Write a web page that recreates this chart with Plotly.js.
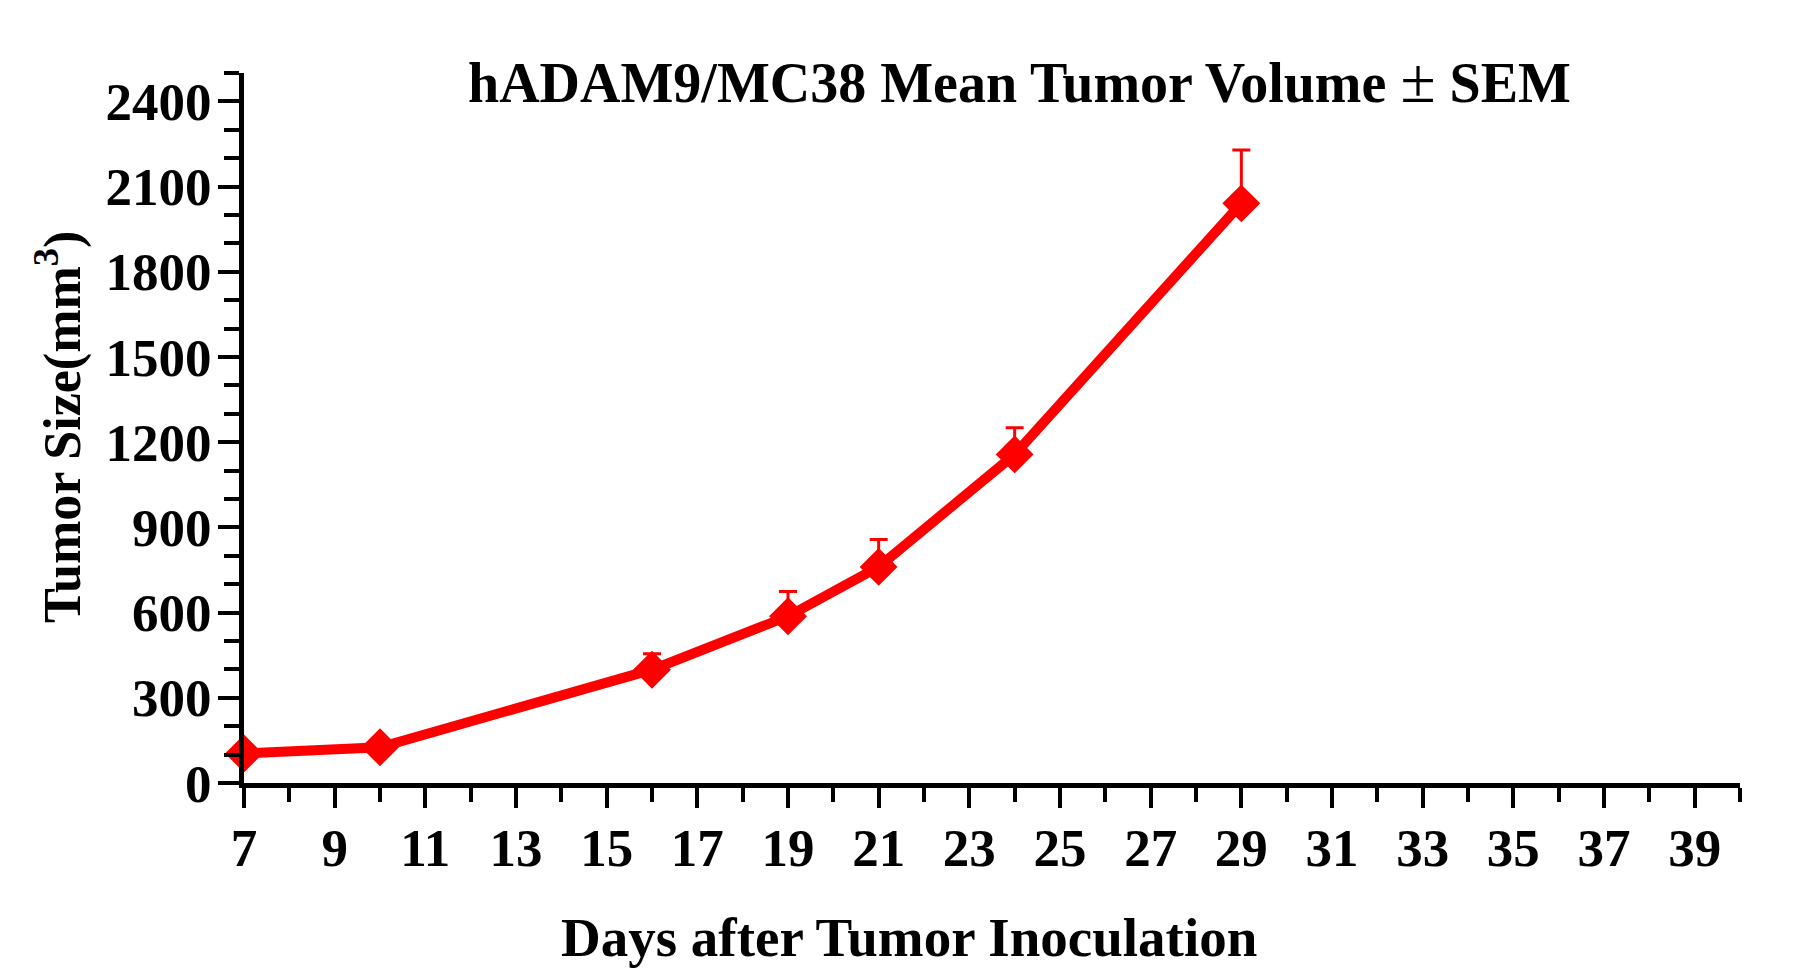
<!DOCTYPE html>
<html>
<head>
<meta charset="utf-8">
<script src="https://cdn.plot.ly/plotly-3.0.1.min.js"></script>
<style>html,body{margin:0;padding:0;background:#fff;}#chart{width:1802px;height:978px;}</style>
</head>
<body>
<div id="chart"></div>
<script>
const days = [7, 10, 16, 19, 21, 24, 29];
const meanVolume = [104, 126, 399, 587, 761, 1157, 2041];
const semVolume = [8, 10, 56, 87, 96, 94, 188];
const titleText = "hADAM9/MC38 Mean Tumor Volume <span style='font-weight:normal;font-size:64px'>±</span> SEM";
const xTitleText = "Days after Tumor Inoculation";
const yTitleText = "Tumor Size(mm<sup>3</sup>)";

const FONT = "Liberation Serif, Times New Roman, serif";

const trace = {
  x: days,
  y: meanVolume,
  type: 'scatter',
  mode: 'lines+markers',
  cliponaxis: false,
  line: {color: '#ff0000', width: 10},
  marker: {symbol: 'diamond', size: 27, color: '#ff0000', line: {color: '#ff0000', width: 2}},
  error_y: {
    type: 'data',
    symmetric: false,
    array: semVolume,
    arrayminus: days.map(() => 0),
    color: '#ff0000',
    thickness: 3,
    width: 9,
    visible: true
  },
  showlegend: false
};

const layout = {
  width: 1802,
  height: 978,
  paper_bgcolor: '#ffffff',
  plot_bgcolor: '#ffffff',
  margin: {l: 244, r: 62, t: 73, b: 195},
  font: {family: FONT, color: '#000000', size: 48, weight: 'bold'},
  xaxis: {
    range: [7, 40],
    tick0: 7,
    dtick: 2,
    tickmode: 'linear',
    ticks: 'outside',
    ticklen: 20,
    tickwidth: 4,
    tickcolor: '#000',
    showline: true,
    linewidth: 5,
    linecolor: '#000',
    showgrid: false,
    zeroline: false,
    ticklabelstandoff: -6,
    tickfont: {family: FONT, size: 53, color: '#000', weight: 'bold'},
    minor: {dtick: 1, tick0: 7, ticks: 'outside', ticklen: 14, tickwidth: 4, tickcolor: '#000', showgrid: false}
  },
  yaxis: {
    range: [0, 2500],
    tick0: 0,
    dtick: 300,
    tickmode: 'linear',
    ticks: 'outside',
    ticklen: 21,
    tickwidth: 4,
    tickcolor: '#000',
    showline: true,
    linewidth: 5,
    linecolor: '#000',
    showgrid: false,
    zeroline: false,
    ticklabelstandoff: -4,
    tickfont: {family: FONT, size: 53, color: '#000', weight: 'bold'},
    minor: {dtick: 100, tick0: 0, ticks: 'outside', ticklen: 15, tickwidth: 4, tickcolor: '#000', showgrid: false}
  },
  annotations: [
    {text: titleText, xref: 'paper', yref: 'paper', x: 0.5187, y: 0.990, xanchor: 'center', yanchor: 'middle', showarrow: false,
     font: {family: FONT, size: 56, color: '#000', weight: 'bold'}},
    {text: xTitleText, xref: 'paper', yref: 'paper', x: 0.4445, y: -0.217, xanchor: 'center', yanchor: 'middle', showarrow: false,
     font: {family: FONT, size: 55, color: '#000', weight: 'bold'}},
    {text: yTitleText, xref: 'paper', yref: 'paper', x: -0.1237, y: 0.5014, xanchor: 'center', yanchor: 'middle', textangle: -90, showarrow: false,
     font: {family: FONT, size: 52, color: '#000', weight: 'bold'}}
  ]
};

Plotly.newPlot('chart', [trace], layout, {displayModeBar: false, staticPlot: true});
</script>
</body>
</html>
